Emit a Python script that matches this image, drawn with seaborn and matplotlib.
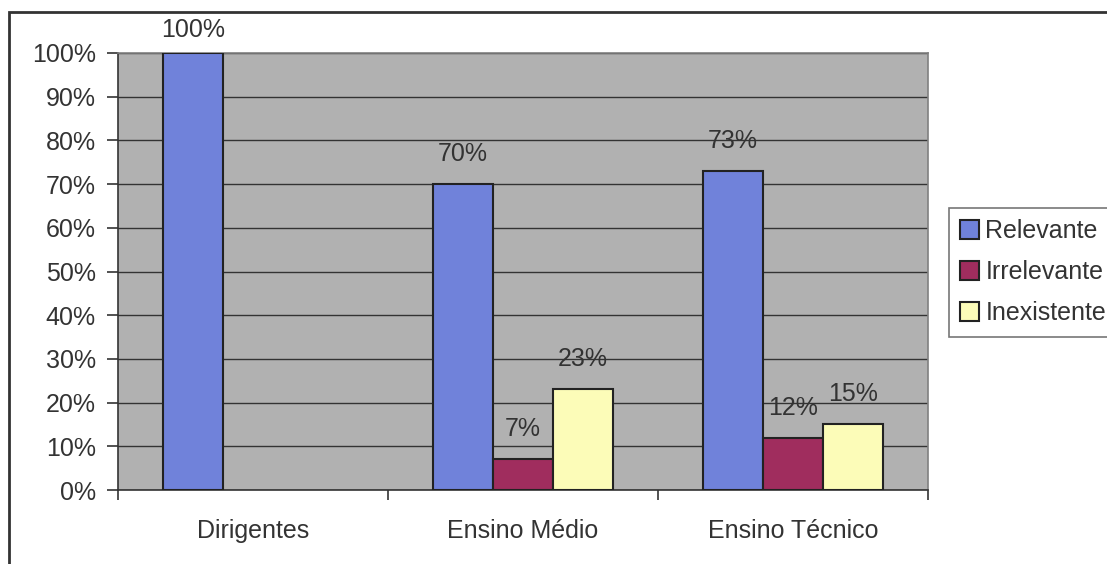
import matplotlib
matplotlib.use("Agg")
import matplotlib.pyplot as plt
import seaborn as sns
import pandas as pd
from matplotlib.patches import Rectangle
from matplotlib.ticker import FixedLocator, PercentFormatter

categories = ["Dirigentes", "Ensino Médio", "Ensino Técnico"]
series = ["Relevante", "Irrelevante", "Inexistente"]
relevante = [100, 70, 73]
irrelevante = [None, 7, 12]
inexistente = [None, 23, 15]
colors = ["#7082DA", "#A02D5E", "#FCFCB8"]

rows = []
for name, vals in zip(series, [relevante, irrelevante, inexistente]):
    for c, v in zip(categories, vals):
        rows.append({"cat": c, "serie": name, "val": v})
df = pd.DataFrame(rows).dropna()

sns.set_theme(style="white")
plt.rcParams["font.family"] = ["Liberation Sans", "DejaVu Sans"]

fig = plt.figure(figsize=(11.07, 5.64), dpi=100)
ax = fig.add_axes([118/1107, 1-490/564, (928-118)/1107, (490-53)/564])
ax.set_facecolor("#B1B1B1")

sns.barplot(data=df, x="cat", y="val", hue="serie", order=categories,
            hue_order=series, palette=colors, saturation=1, width=0.665, gap=0,
            edgecolor="#222222", linewidth=1.5, ax=ax, legend=True, zorder=3)

ax.set_ylim(0, 100)
ax.set_xlim(-0.5, 2.5)
ax.yaxis.set_major_locator(FixedLocator(range(0, 101, 10)))
ax.yaxis.set_major_formatter(PercentFormatter(decimals=0))
ax.grid(axis="y", color="#333333", linewidth=1.0, zorder=0)
ax.set_axisbelow(True)
ax.set_xlabel("")
ax.set_ylabel("")

for side in ["top", "right"]:
    ax.spines[side].set_color("#808080")
    ax.spines[side].set_linewidth(1.2)
for side in ["left", "bottom"]:
    ax.spines[side].set_color("#333333")
    ax.spines[side].set_linewidth(1.2)

ax.tick_params(axis="y", length=8, width=1.2, color="#333333", labelsize=18,
               labelcolor="#333333", left=True, pad=8)
ax.tick_params(axis="x", length=0, labelsize=18, labelcolor="#333333", pad=21)
ax.set_xticks([-0.5, 0.5, 1.5, 2.5], minor=True)
ax.tick_params(axis="x", which="minor", length=7, width=1.2, color="#333333",
               bottom=True, direction="out")

for cont in ax.containers:
    labels = [f"{v:.0f}%" for v in cont.datavalues]
    anns = ax.bar_label(cont, labels=labels, padding=13, fontsize=18, color="#333333")
    for a, v in zip(anns, cont.datavalues):
        if v >= 100:
            a.xyann = (0, 8)

leg = ax.legend(loc="upper left", bbox_to_anchor=(949/1107, 1-208/564),
                bbox_transform=fig.transFigure, frameon=True, fontsize=18,
                handlelength=0.75, handleheight=0.75, handletextpad=0.25,
                labelspacing=0.68, borderpad=0.45, borderaxespad=0,
                fancybox=False, edgecolor="#555555")
leg.get_frame().set_linewidth(1.2)
for t in leg.get_texts():
    t.set_color("#333333")

fig.patches.append(Rectangle((9/1107, -0.1), 1.2, 1 - 12/564 + 0.1,
                             transform=fig.transFigure, fill=False,
                             edgecolor="#333333", linewidth=2))

fig.savefig("out.png", dpi=100, facecolor="white")
